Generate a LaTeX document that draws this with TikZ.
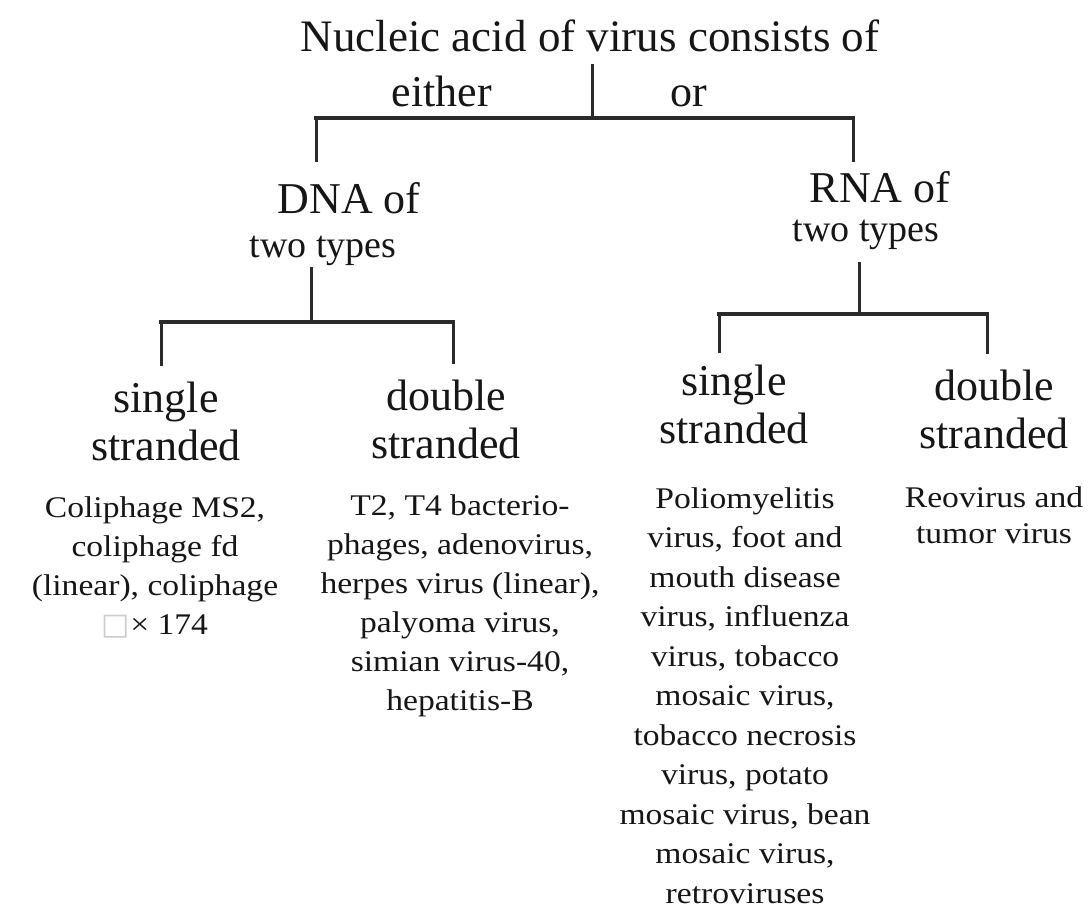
\documentclass[tikz,border=0pt]{standalone}
\usepackage{fontspec}
\setmainfont{Liberation Serif}
\newfontfamily\smallserif[FakeStretch=1.12]{Liberation Serif}
\newfontfamily\symfont{DejaVu Sans}
\definecolor{ink}{HTML}{161616}
\definecolor{linecol}{HTML}{2A2A2A}
\begin{document}
\begin{tikzpicture}[x=1pt,y=-1pt]
\tikzset{
  big/.style={font=\fontsize{44}{48}\selectfont, inner sep=0pt, anchor=base, align=center, text=ink},
  mid/.style={font=\fontsize{38}{44}\selectfont, inner sep=0pt, anchor=base, text=ink},
  small/.style={font=\smallserif\fontsize{30}{39}\selectfont, inner sep=0pt, anchor=base, align=center, text=ink},
  link/.style={line width=3pt, draw=linecol},
  bar/.style={line width=4.4pt, draw=linecol, line cap=rect}
}
\useasboundingbox[fill=white] (0,0) rectangle (1089,912);

% texts (multi-line nodes are placed by the baseline of their last line)
\node[big, font=\fontsize{45}{48}\selectfont] (title) at (590,52) {Nucleic acid of virus consists of};
\node[big] (either) at (442,107) {either};
\node[big] (or) at (689,107) {or};
\node[big] (dna) at (349,213) {DNA of};
\node[mid] (dnatypes) at (323,257) {two types};
\node[big] (rna) at (880,203) {RNA of};
\node[mid] (rnatypes) at (866,241) {two types};

\node[big] (dss) at (166,460) {single\\stranded};
\node[big] (dds) at (446,458) {double\\stranded};
\node[big] (rss) at (734,443) {single\\stranded};
\node[big] (rds) at (994,448) {double\\stranded};

\node[small] (dsslist) at (155,634) {Coliphage MS2,\\coliphage fd\\(linear), coliphage\\{\symfont\color{black!20}□}× 174};
\node[small] (ddslist) at (460,710) {T2, T4 bacterio-\\phages, adenovirus,\\herpes virus (linear),\\palyoma virus,\\simian virus-40,\\hepatitis-B};
\node[small, font=\smallserif\fontsize{30}{39.5}\selectfont] (rsslist) at (745,903) {Poliomyelitis\\virus, foot and\\mouth disease\\virus, influenza\\virus, tobacco\\mosaic virus,\\tobacco necrosis\\virus, potato\\mosaic virus, bean\\mosaic virus,\\retroviruses};
\node[small, font=\smallserif\fontsize{30}{36}\selectfont] (rdslist) at (994,543) {Reovirus and\\tumor virus};

% fork coordinates
\coordinate (topfork) at (592,118);
\coordinate (topL) at (316,118);
\coordinate (topR) at (853,118);
\coordinate (dfork) at (311,322);
\coordinate (dL) at (161,322);
\coordinate (dR) at (453,322);
\coordinate (rfork) at (859,314);
\coordinate (rL) at (719,314);
\coordinate (rR) at (987,314);

% connectors
\draw[link, shorten <=11pt] (title.south -| topfork) -- (topfork);
\draw[bar] (topL) -- (topR);
\draw[link, shorten >=20pt] (topL) -- (topL |- dna.north);
\draw[link, shorten >=10pt] (topR) -- (topR |- rna.north);

\draw[link, shorten <=2pt] (dnatypes.south -| dfork) -- (dfork);
\draw[bar] (dL) -- (dR);
\draw[link, shorten >=15pt] (dL) -- (dL |- dss.north);
\draw[link, shorten >=15pt] (dR) -- (dR |- dds.north);

\draw[link, shorten <=13pt] (rnatypes.south -| rfork) -- (rfork);
\draw[bar] (rL) -- (rR);
\draw[link, shorten >=11pt] (rL) -- (rL |- rss.north);
\draw[link, shorten >=15pt] (rR) -- (rR |- rds.north);
\end{tikzpicture}
\end{document}
